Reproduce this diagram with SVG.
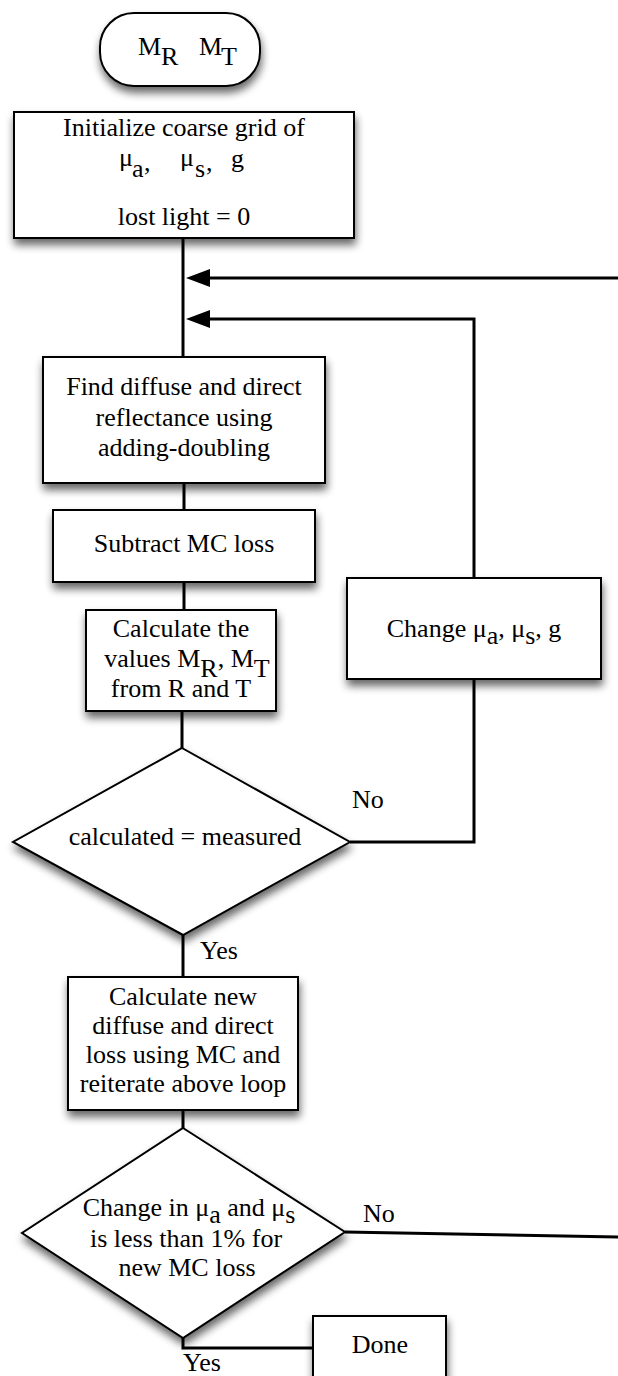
<svg xmlns="http://www.w3.org/2000/svg" width="618" height="1376" viewBox="0 0 618 1376">
<defs>
<filter id="sh" x="-20%" y="-20%" width="140%" height="150%">
<feGaussianBlur in="SourceAlpha" stdDeviation="4"/>
<feOffset dx="1" dy="6" result="b"/>
<feComponentTransfer><feFuncA type="linear" slope="0.6"/></feComponentTransfer>
<feMerge><feMergeNode/><feMergeNode in="SourceGraphic"/></feMerge>
</filter>
<marker id="ah" markerUnits="userSpaceOnUse" markerWidth="26" markerHeight="20" refX="10" refY="9" orient="auto">
<path d="M0,0 L24,9 L0,18 z" fill="#000"/>
</marker>
</defs>
<style>
.box{fill:#fff;stroke:#000;stroke-width:2;filter:url(#sh)}
.t{font-family:"Liberation Serif","Times New Roman",serif;font-size:26px;fill:#000}
.c{text-anchor:middle}
.ln{fill:none;stroke:#000;stroke-width:3}
</style>
<rect width="618" height="1376" fill="#fff"/>

<g id="connectors">
<path class="ln" d="M183,238 V357"/>
<path class="ln" d="M618,278 H200" marker-end="url(#ah)"/>
<path class="ln" d="M474,578 V319 H200" marker-end="url(#ah)"/>
<path class="ln" d="M184,483 V510"/>
<path class="ln" d="M184,582 V610"/>
<path class="ln" d="M182,711 V748"/>
<path class="ln" d="M474,679 V842 H350"/>
<path class="ln" d="M183,935 V977"/>
<path class="ln" d="M183,1110 V1128"/>
<path class="ln" d="M345,1232 L618,1237"/>
<path class="ln" d="M183,1338 V1348 H313"/>
</g>

<g id="start">
<rect class="box" x="100" y="13" width="160" height="73" rx="34" ry="34"/>
<text class="t" x="138" y="55" font-size="27">M</text>
<text class="t" x="161" y="65" font-size="27">R</text>
<text class="t" x="199" y="55" font-size="27">M</text>
<text class="t" x="221" y="65" font-size="27">T</text>
</g>

<g id="init">
<rect class="box" x="14" y="112" width="340" height="126"/>
<text class="t c" x="184" y="136">Initialize coarse grid of</text>
<text class="t" x="119" y="166" font-size="19">μ</text>
<text class="t" x="132" y="177">a</text>
<text class="t" x="144" y="171" font-size="18">,</text>
<text class="t" x="180" y="166" font-size="19">μ</text>
<text class="t" x="195" y="177">s</text>
<text class="t" x="206" y="171" font-size="18">,</text>
<text class="t" x="231" y="167" font-size="20">g</text>
<text class="t c" x="184" y="225">lost light = 0</text>
</g>

<g id="find">
<rect class="box" x="43" y="357" width="282" height="126"/>
<text class="t c" x="184" y="395">Find diffuse and direct</text>
<text class="t c" x="184" y="426">reflectance using</text>
<text class="t c" x="184" y="456">adding-doubling</text>
</g>

<g id="subtract">
<rect class="box" x="53" y="510" width="262" height="72"/>
<text class="t c" x="184" y="552">Subtract MC loss</text>
</g>

<g id="calculate">
<rect class="box" x="86" y="610" width="190" height="101"/>
<text class="t c" x="181" y="637">Calculate the</text>
<text class="t c" x="187" y="667">values M<tspan dy="10">R</tspan><tspan dy="-10">, M</tspan><tspan dy="10">T</tspan></text>
<text class="t c" x="181" y="697">from R and T</text>
</g>

<g id="change">
<rect class="box" x="347" y="578" width="254" height="101"/>
<text class="t c" x="474" y="637">Change μ<tspan dy="7">a</tspan><tspan dy="-7">, μ</tspan><tspan dy="7">s</tspan><tspan dy="-7">, g</tspan></text>
</g>

<g id="decision1">
<polygon class="box" points="182,748 350,842 183,935 13,842"/>
<text class="t c" x="185" y="845">calculated = measured</text>
</g>

<g id="calcnew">
<rect class="box" x="68" y="977" width="230" height="133"/>
<text class="t c" x="183" y="1005">Calculate new</text>
<text class="t c" x="183" y="1034">diffuse and direct</text>
<text class="t c" x="183" y="1063">loss using MC and</text>
<text class="t c" x="183" y="1092">reiterate above loop</text>
</g>

<g id="decision2">
<polygon class="box" points="183,1128 345,1232 183,1338 22,1233"/>
<text class="t c" x="189" y="1216">Change in μ<tspan dy="7">a</tspan><tspan dy="-7"> and μ</tspan><tspan dy="7">s</tspan></text>
<text class="t c" x="186" y="1247">is less than 1% for</text>
<text class="t c" x="187" y="1276">new MC loss</text>
</g>

<g id="done">
<rect class="box" x="313" y="1316" width="133" height="70"/>
<text class="t c" x="380" y="1353">Done</text>
</g>

<g id="labels">
<text class="t" x="352" y="808">No</text>
<text class="t" x="200" y="959">Yes</text>
<text class="t" x="363" y="1222">No</text>
<text class="t" x="183" y="1371">Yes</text>
</g>
</svg>
